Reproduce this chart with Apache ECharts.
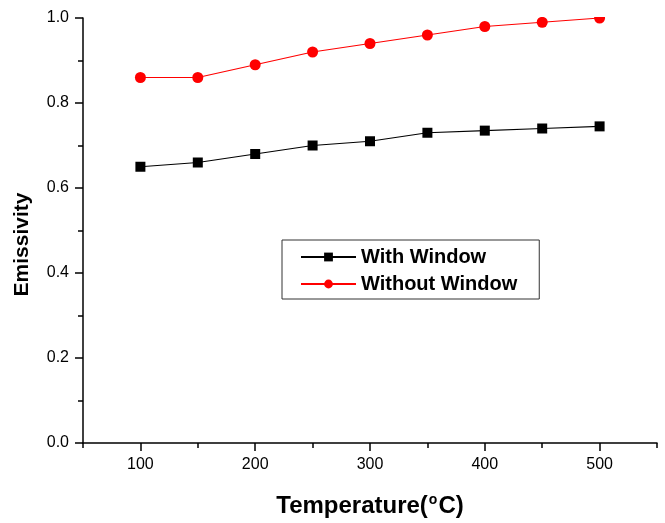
<!DOCTYPE html>
<html>
<head>
<meta charset="utf-8">
<script src="https://cdn.jsdelivr.net/npm/echarts@6/dist/echarts.min.js"></script>
<style>
  html, body { margin: 0; padding: 0; background: #fff; }
  #chart { width: 665px; height: 523px; }
</style>
</head>
<body>
<div id="chart"></div>
<script>
// Temperature points (°C)
const temperatures = [100, 150, 200, 250, 300, 350, 400, 450, 500];
// Labelled temperature ticks
const majorTemps = [100, 200, 300, 400, 500];
// Measured emissivity
const withWindow = [0.65, 0.66, 0.68, 0.70, 0.71, 0.73, 0.735, 0.74, 0.745];
const withoutWindow = [0.86, 0.86, 0.89, 0.92, 0.94, 0.96, 0.98, 0.99, 1.0];
const seriesNames = ['With Window', 'Without Window'];

const pairs = (xs, ys) => xs.map((x, i) => [x, ys[i]]);
const FONT = 'Liberation Sans, Arial, sans-serif';
const AX = { color: '#000', width: 1.5 };

const chart = echarts.init(document.getElementById('chart'));
chart.setOption({
  backgroundColor: '#fff',
  animation: false,
  grid: { left: 83, right: 8, top: 18, bottom: 79 },
  xAxis: [
    {
      type: 'value', min: 50, max: 550, interval: 50,
      name: 'Temperature({sup|o}C)',
      nameLocation: 'middle', nameGap: 50,
      nameTextStyle: {
        fontFamily: FONT, fontWeight: 'bold', fontSize: 24, color: '#000',
        rich: { sup: { fontFamily: FONT, fontWeight: 'bold', fontSize: 14, verticalAlign: 'top', padding: [0, 1, 12, 1], color: '#000' } }
      },
      axisLine: { lineStyle: AX },
      axisTick: { customValues: majorTemps, length: 8, lineStyle: AX },
      axisLabel: { customValues: majorTemps, margin: 14, fontFamily: FONT, fontSize: 16, color: '#000' },
      splitLine: { show: false }
    },
    {
      // short ticks every 50 °C
      type: 'value', min: 50, max: 550, interval: 50, position: 'bottom',
      axisLine: { show: false },
      axisTick: { length: 5, lineStyle: AX },
      axisLabel: { show: false },
      splitLine: { show: false }
    }
  ],
  yAxis: {
    type: 'value', min: 0, max: 1.0, interval: 0.2,
    name: 'Emissivity',
    nameLocation: 'middle', nameGap: 50,
    nameTextStyle: { fontFamily: FONT, fontWeight: 'bold', fontSize: 21, color: '#000', padding: [0, 28, 0, 0] },
    axisLine: { show: true, lineStyle: AX },
    axisTick: { show: true, length: 8, lineStyle: AX },
    minorTick: { show: true, splitNumber: 2, length: 5, lineStyle: AX },
    axisLabel: { margin: 14, fontFamily: FONT, fontSize: 16, color: '#000', formatter: v => v.toFixed(1) },
    splitLine: { show: false },
    minorSplitLine: { show: false }
  },
  legend: {
    left: 282, top: 240, orient: 'vertical',
    data: seriesNames,
    itemWidth: 55, itemHeight: 11, itemGap: 7,
    padding: [7, 22, 5, 18],
    borderColor: '#333', borderWidth: 1,
    textStyle: { fontFamily: FONT, fontWeight: 'bold', fontSize: 20, color: '#000' }
  },
  series: [
    {
      name: seriesNames[0], type: 'line',
      data: pairs(temperatures, withWindow),
      symbol: 'rect', symbolSize: 10,
      itemStyle: { color: '#000' },
      lineStyle: { color: '#000', width: 1.2 },
      z: 3
    },
    {
      name: seriesNames[1], type: 'line',
      data: pairs(temperatures, withoutWindow),
      symbol: 'circle', symbolSize: 11,
      itemStyle: { color: '#ff0000' },
      lineStyle: { color: '#ff0000', width: 1.2 },
      z: 3
    }
  ],
  graphic: [
    // plot frame ends at the top of the axis, markers above it are cut off
    { type: 'rect', left: 85, top: 0, shape: { width: 580, height: 17 }, style: { fill: '#fff' }, z: 100 }
  ]
});
</script>
</body>
</html>
